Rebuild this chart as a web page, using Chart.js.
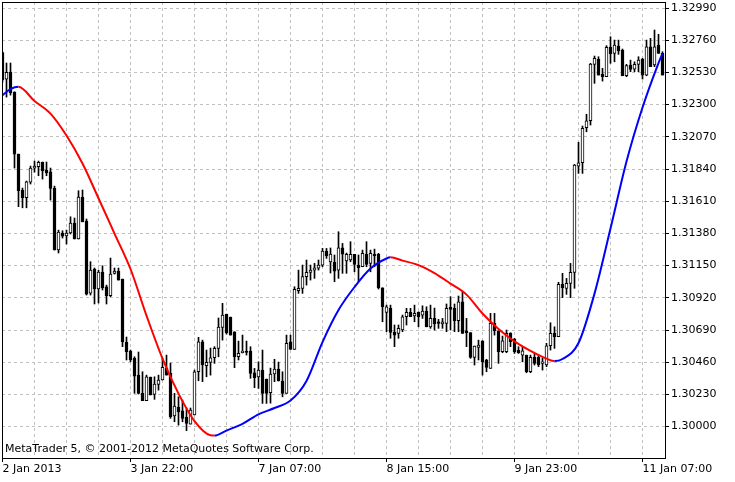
<!DOCTYPE html>
<html>
<head>
<meta charset="utf-8">
<script src="https://cdn.jsdelivr.net/npm/chart.js@4.4.1/dist/chart.umd.min.js"></script>
<style>
  html, body { margin: 0; padding: 0; background: #fff; }
  #wrap { width: 735px; height: 482px; position: relative; }
</style>
</head>
<body>
<div id="wrap"><canvas id="chart"></canvas></div>
<script>
// EURUSD-like H1 bars, 2 Jan 2013 .. 11 Jan 2013
const open = [
  1.32671,1.32481,1.32533,1.32390,1.31947,1.31690,1.31635,1.31747,1.31847,1.31856,
  1.31888,1.31833,1.31820,1.31702,1.31263,1.31383,1.31363,1.31383,1.31454,1.31340,
  1.31638,1.31468,1.30954,1.31126,1.30983,1.31104,1.30999,1.30935,1.31095,1.31111,
  1.31054,1.30602,1.30540,1.30488,1.30368,1.30238,1.30185,1.30354,1.30231,1.30302,
  1.30333,1.30416,1.30381,1.30076,1.30138,1.30113,1.30066,1.30018,1.30083,1.30392,
  1.30606,1.30435,1.30459,1.30492,1.30559,1.30709,1.30802,1.30781,1.30678,1.30499,
  1.30528,1.30540,1.30540,1.30385,1.30356,1.30404,1.30340,1.30242,1.30376,1.30411,
  1.30326,1.30238,1.30606,1.30552,1.30971,1.30988,1.31071,1.31102,1.31118,1.31131,
  1.31154,1.31254,1.31176,1.31173,1.31118,1.31278,1.31183,1.31190,1.31231,1.31154,
  1.31142,1.31231,1.31166,1.31231,1.31231,1.30992,1.30816,1.30845,1.30673,1.30666,
  1.30690,1.30785,1.30816,1.30790,1.30816,1.30797,1.30825,1.30713,1.30773,1.30749,
  1.30733,1.30738,1.30852,1.30845,1.30756,1.30892,1.30685,1.30671,1.30495,1.30566,
  1.30613,1.30476,1.30416,1.30738,1.30685,1.30535,1.30535,1.30666,1.30623,1.30547,
  1.30511,1.30511,1.30392,1.30495,1.30495,1.30452,1.30440,1.30578,1.30666,1.30642,
  1.31016,1.30988,1.31023,1.31102,1.31861,1.31885,1.32135,1.32185,1.32588,1.32623,
  1.32516,1.32499,1.32709,1.32666,1.32718,1.32690,1.32506,1.32583,1.32554,1.32588,
  1.32626,1.32511,1.32713,1.32583,1.32726,1.32666
];
const high = [
  1.32676,1.32597,1.32597,1.32392,1.31947,1.31704,1.31754,1.31861,1.31897,1.31897,
  1.31890,1.31890,1.31847,1.31718,1.31404,1.31399,1.31404,1.31499,1.31490,1.31685,
  1.31690,1.31483,1.31178,1.31133,1.31118,1.31149,1.31011,1.31204,1.31133,1.31133,
  1.31054,1.30640,1.30547,1.30499,1.30533,1.30392,1.30368,1.30354,1.30356,1.30368,
  1.30488,1.30511,1.30454,1.30238,1.30213,1.30190,1.30133,1.30133,1.30404,1.30638,
  1.30618,1.30547,1.30561,1.30571,1.30776,1.30881,1.30804,1.30783,1.30678,1.30611,
  1.30654,1.30611,1.30571,1.30416,1.30463,1.30547,1.30340,1.30418,1.30481,1.30461,
  1.30392,1.30654,1.30654,1.30999,1.31118,1.31154,1.31190,1.31154,1.31166,1.31190,
  1.31273,1.31273,1.31276,1.31226,1.31392,1.31309,1.31240,1.31321,1.31231,1.31226,
  1.31261,1.31321,1.31261,1.31268,1.31238,1.30992,1.30868,1.30868,1.30726,1.30726,
  1.30797,1.30845,1.30845,1.30868,1.30820,1.30863,1.30856,1.30868,1.30847,1.30766,
  1.30773,1.30876,1.30928,1.30876,1.30933,1.30963,1.30773,1.30671,1.30576,1.30618,
  1.30613,1.30481,1.30809,1.30809,1.30685,1.30647,1.30690,1.30671,1.30631,1.30571,
  1.30571,1.30511,1.30511,1.30523,1.30511,1.30488,1.30595,1.30742,1.30713,1.31031,
  1.31095,1.31059,1.31166,1.31873,1.32031,1.32147,1.32231,1.32595,1.32647,1.32642,
  1.32559,1.32721,1.32785,1.32761,1.32761,1.32697,1.32588,1.32618,1.32606,1.32642,
  1.32631,1.32761,1.32773,1.32833,1.32802,1.32678
];
const low = [
  1.32461,1.32354,1.32368,1.31847,1.31571,1.31563,1.31563,1.31733,1.31818,1.31792,
  1.31768,1.31792,1.31618,1.31261,1.31240,1.31347,1.31304,1.31376,1.31340,1.31340,
  1.31463,1.30940,1.30940,1.30876,1.30883,1.30976,1.30876,1.30928,1.31090,1.31047,
  1.30571,1.30476,1.30463,1.30238,1.30233,1.30185,1.30185,1.30226,1.30195,1.30261,
  1.30333,1.30368,1.30059,1.30035,1.30011,1.30035,1.29971,1.30018,1.30083,1.30328,
  1.30321,1.30356,1.30368,1.30452,1.30499,1.30618,1.30661,1.30654,1.30421,1.30476,
  1.30526,1.30511,1.30345,1.30278,1.30273,1.30166,1.30166,1.30168,1.30321,1.30326,
  1.30213,1.30238,1.30552,1.30552,1.30952,1.30952,1.31011,1.31047,1.31059,1.31118,
  1.31142,1.31202,1.31097,1.31035,1.31059,1.31095,1.31095,1.31178,1.31106,1.31035,
  1.31142,1.31142,1.31106,1.31142,1.30983,1.30749,1.30678,1.30631,1.30571,1.30631,
  1.30678,1.30726,1.30785,1.30749,1.30713,1.30773,1.30713,1.30702,1.30690,1.30702,
  1.30702,1.30678,1.30690,1.30678,1.30678,1.30666,1.30571,1.30488,1.30440,1.30476,
  1.30368,1.30392,1.30416,1.30654,1.30452,1.30528,1.30528,1.30571,1.30523,1.30523,
  1.30463,1.30385,1.30385,1.30440,1.30428,1.30404,1.30428,1.30547,1.30559,1.30642,
  1.30921,1.30945,1.30921,1.30988,1.31809,1.31809,1.32106,1.32154,1.32452,1.32511,
  1.32468,1.32499,1.32595,1.32606,1.32659,1.32506,1.32499,1.32535,1.32535,1.32535,
  1.32483,1.32506,1.32571,1.32571,1.32666,1.32511
];
const close = [
  1.32476,1.32531,1.32383,1.31947,1.31685,1.31635,1.31749,1.31847,1.31861,1.31888,
  1.31826,1.31813,1.31702,1.31263,1.31390,1.31361,1.31383,1.31454,1.31340,1.31640,
  1.31463,1.30947,1.31118,1.30983,1.31104,1.30992,1.30935,1.31090,1.31111,1.31047,
  1.30606,1.30535,1.30476,1.30361,1.30238,1.30185,1.30356,1.30226,1.30304,1.30333,
  1.30423,1.30368,1.30071,1.30147,1.30106,1.30059,1.30023,1.30118,1.30392,1.30606,
  1.30440,1.30459,1.30492,1.30559,1.30711,1.30797,1.30671,1.30654,1.30499,1.30523,
  1.30540,1.30531,1.30381,1.30349,1.30404,1.30238,1.30238,1.30376,1.30411,1.30326,
  1.30238,1.30595,1.30552,1.30981,1.30988,1.31071,1.31102,1.31118,1.31135,1.31154,
  1.31254,1.31220,1.31233,1.31111,1.31278,1.31231,1.31231,1.31231,1.31159,1.31135,
  1.31238,1.31159,1.31238,1.31220,1.30992,1.30856,1.30856,1.30673,1.30654,1.30702,
  1.30785,1.30816,1.30785,1.30809,1.30785,1.30825,1.30713,1.30773,1.30733,1.30738,
  1.30749,1.30845,1.30838,1.30756,1.30892,1.30666,1.30671,1.30495,1.30576,1.30583,
  1.30463,1.30423,1.30738,1.30685,1.30535,1.30613,1.30666,1.30606,1.30535,1.30528,
  1.30542,1.30392,1.30495,1.30452,1.30440,1.30463,1.30578,1.30666,1.30642,1.31016,
  1.30992,1.31023,1.31102,1.31868,1.31885,1.32131,1.32185,1.32590,1.32631,1.32511,
  1.32499,1.32709,1.32663,1.32726,1.32683,1.32506,1.32578,1.32552,1.32588,1.32618,
  1.32511,1.32713,1.32571,1.32713,1.32666,1.32511
];

// moving average, read at some bar indexes
const maIdx = [0,2,4,8,12,16,20,24,28,32,36,40,44,48,52,53,56,60,64,68,72,76,80,84,88,92,96,97,
  100,104,108,112,116,120,124,128,132,136,138,140,144,148,152,156,160,164,165];
const maVal = [1.32368,1.32411,1.32427,1.32326,1.32236,1.32079,1.31879,1.31631,1.31379,1.31126,
  1.30793,1.30486,1.30236,1.30040,1.29938,1.29936,1.29972,1.30020,1.30088,1.30133,1.30186,1.30326,
  1.30604,1.30833,1.30997,1.31129,1.31201,1.31209,1.31186,1.31154,1.31097,1.31022,1.30943,1.30808,
  1.30697,1.30609,1.30541,1.30486,1.30468,1.30483,1.30597,1.30950,1.31415,1.31893,1.32279,1.32597,1.32665];

const xLabels = ['2 Jan 2013', '3 Jan 22:00', '7 Jan 07:00', '8 Jan 15:00', '9 Jan 23:00', '11 Jan 07:00'];
const yTicks = [1.30000, 1.30230, 1.30460, 1.30690, 1.30920, 1.31150, 1.31380, 1.31610,
  1.31840, 1.32070, 1.32300, 1.32530, 1.32760, 1.32990];

document.addEventListener('DOMContentLoaded', () => {
  const FONT = 'DejaVu Sans';
  Chart.defaults.font.family = FONT;
  Chart.defaults.font.size = 11;
  Chart.defaults.color = '#000';

  const bodies = open.map((o, i) => ({ x: i, y: [o, close[i]] }));
  const wicks = open.map((o, i) => ({ x: i, y: [low[i], high[i]] }));
  const ma = maIdx.map((i, k) => ({ x: i, y: maVal[k] }));

  // frame + copyright text
  const framePlugin = {
    id: 'frame',
    afterDraw(chart) {
      const { ctx, chartArea: a } = chart;
      ctx.save();
      ctx.strokeStyle = '#000';
      ctx.lineWidth = 1;
      ctx.strokeRect(a.left + 0.5, a.top + 0.5, a.right - a.left, a.bottom - a.top);
      ctx.font = '11px "' + FONT + '"';
      ctx.fillStyle = '#000';
      ctx.textBaseline = 'middle';
      ctx.fillText('MetaTrader 5, \u00a9 2001-2012 MetaQuotes Software Corp.', a.left + 3, a.bottom - 9);
      ctx.restore();
    }
  };

  const noPad = s => { s.paddingTop = 0; s.paddingBottom = 0; s.paddingLeft = 0; s.paddingRight = 0; };

  new Chart(document.getElementById('chart'), {
    data: {
      datasets: [
        {
          type: 'line',
          data: ma,
          borderWidth: 2,
          pointRadius: 0,
          cubicInterpolationMode: 'monotone',
          segment: {
            borderColor: c => c.p1.parsed.y < c.p0.parsed.y ? '#ff0000' : '#0000ff'
          },
          order: 0
        },
        {
          type: 'bar',
          data: bodies,
          barThickness: 3,
          grouped: false,
          minBarLength: 1,
          borderWidth: 1,
          borderSkipped: false,
          borderColor: '#000',
          backgroundColor: bodies.map(b => b.y[1] > b.y[0] ? '#fff' : '#000'),
          order: 1
        },
        {
          type: 'bar',
          data: wicks,
          barThickness: 1,
          grouped: false,
          borderWidth: 0,
          backgroundColor: '#000',
          order: 2
        }
      ]
    },
    options: {
      responsive: true,
      maintainAspectRatio: false,
      animation: false,
      devicePixelRatio: 1,
      layout: { padding: { left: 2, top: 2, right: 0, bottom: 0 } },
      plugins: { legend: { display: false }, tooltip: { enabled: false } },
      scales: {
        x: {
          type: 'linear',
          offset: false,
          min: -0.125,
          max: 165.625,
          afterBuildTicks: s => { s.ticks = []; for (let v = 0; v <= 160; v += 8) s.ticks.push({ value: v }); },
          afterFit: s => { s.height = 24; noPad(s); },
          grid: {
            offset: false,
            color: '#c0c0c0',
            tickLength: 4,
            tickColor: c => (c.tick && c.tick.value % 32 === 0) ? '#000' : 'rgba(0,0,0,0)'
          },
          border: { display: false, dash: [3, 3] },
          ticks: {
            autoSkip: false,
            maxRotation: 0,
            minRotation: 0,
            align: 'start',
            padding: 1,
            callback: v => v % 32 === 0 ? xLabels[v / 32] : ''
          }
        },
        y: {
          position: 'right',
          min: 1.29776,
          max: 1.33033,
          afterBuildTicks: s => { s.ticks = yTicks.map(v => ({ value: v })); },
          afterFit: s => { s.width = 70; noPad(s); },
          grid: { color: '#c0c0c0', tickLength: 4, tickColor: '#000' },
          border: { display: false, dash: [3, 3] },
          ticks: { padding: 2, callback: v => v.toFixed(5) }
        }
      }
    },
    plugins: [framePlugin]
  });
});
</script>
</body>
</html>
